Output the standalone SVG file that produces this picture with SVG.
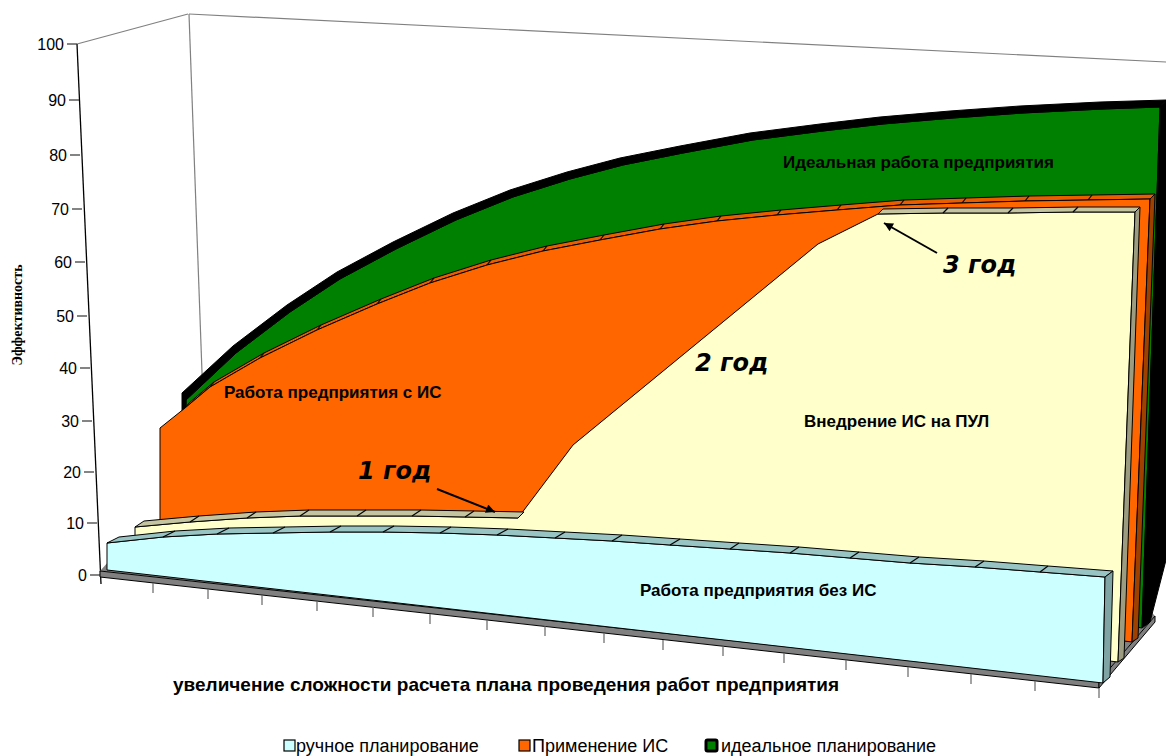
<svg xmlns="http://www.w3.org/2000/svg" width="1166" height="756" viewBox="0 0 1166 756">
<style>
.f{stroke:#000;stroke-width:1;stroke-linejoin:round}
.dv{stroke:#000;stroke-width:1.2}
.lbl{font-family:"Liberation Sans",Arial,sans-serif;font-weight:bold;font-size:17px;fill:#000}
.yr{font-family:"DejaVu Sans",Verdana,sans-serif;font-weight:bold;font-style:italic;font-size:24px;fill:#000}
.tk{font-family:"Liberation Sans",Arial,sans-serif;font-size:16px;fill:#000;text-anchor:end}
.lg{font-family:"Liberation Sans",Arial,sans-serif;font-size:18px;fill:#000}
.wall{stroke:#808080;stroke-width:1.2;fill:none}
.xt{stroke:#666;stroke-width:1.2}
</style>
<defs>
<marker id="ah" viewBox="0 0 10 10" refX="10" refY="5" markerWidth="12" markerHeight="9" markerUnits="userSpaceOnUse" orient="auto">
<path d="M0,0 L10,5 L0,10 z" fill="#000"/>
</marker>
</defs>

<g id="walls">
<line class="wall" x1="77" y1="44" x2="188" y2="14"/>
<line class="wall" x1="189" y1="14" x2="1166" y2="62"/>
<line class="wall" x1="189" y1="14" x2="203" y2="400"/>
</g>

<g id="axis-y">
<line x1="77" y1="44" x2="101" y2="584" stroke="#000" stroke-width="1.3"/>
<g stroke="#333" stroke-width="1.2">
<line x1="67" y1="44" x2="77" y2="44"/>
<line x1="69" y1="100" x2="79" y2="100"/>
<line x1="70" y1="155" x2="80" y2="155"/>
<line x1="72" y1="209" x2="82" y2="209"/>
<line x1="75" y1="262" x2="85" y2="262"/>
<line x1="77" y1="316" x2="87" y2="316"/>
<line x1="80" y1="368" x2="90" y2="368"/>
<line x1="82" y1="421" x2="92" y2="421"/>
<line x1="84" y1="472" x2="94" y2="472"/>
<line x1="87" y1="523" x2="97" y2="523"/>
<line x1="90" y1="575" x2="100" y2="575"/>
</g>
<text class="tk" x="64" y="50">100</text>
<text class="tk" x="66" y="106">90</text>
<text class="tk" x="67" y="161">80</text>
<text class="tk" x="69" y="215">70</text>
<text class="tk" x="72" y="268">60</text>
<text class="tk" x="74" y="322">50</text>
<text class="tk" x="77" y="374">40</text>
<text class="tk" x="79" y="427">30</text>
<text class="tk" x="81" y="478">20</text>
<text class="tk" x="84" y="529">10</text>
<text class="tk" x="87" y="581">0</text>
<text transform="translate(22,315) rotate(-90)" text-anchor="middle" font-family="'Liberation Serif','Times New Roman',serif" font-weight="bold" font-size="14">Эффективность</text>
</g>

<g id="floor">
<polygon points="100,571 1099,681 1155,616 1140,600 110,560" fill="#808080"/>
<polygon class="f" points="100,571 1099,681 1099,688 100,577" fill="#808080"/>
<polygon class="f" points="1099,681 1155,616 1155,622 1099,688" fill="#808080"/>
<g class="xt">
<line x1="153" y1="583" x2="153" y2="593"/>
<line x1="208" y1="589" x2="208" y2="599"/>
<line x1="262" y1="595" x2="262" y2="605"/>
<line x1="317" y1="601" x2="317" y2="611"/>
<line x1="373" y1="607" x2="373" y2="617"/>
<line x1="430" y1="614" x2="430" y2="624"/>
<line x1="487" y1="620" x2="487" y2="630"/>
<line x1="545" y1="626" x2="545" y2="636"/>
<line x1="604" y1="633" x2="604" y2="643"/>
<line x1="663" y1="640" x2="663" y2="650"/>
<line x1="723" y1="646" x2="723" y2="656"/>
<line x1="784" y1="653" x2="784" y2="663"/>
<line x1="846" y1="660" x2="846" y2="670"/>
<line x1="908" y1="667" x2="908" y2="677"/>
<line x1="971" y1="674" x2="971" y2="684"/>
<line x1="1035" y1="681" x2="1035" y2="691"/>
<line x1="1099" y1="688" x2="1099" y2="698"/>
</g>
</g>

<g id="series-ideal">
<polygon class="f" points="186,400 236,353 290,312 340,279 396,249 456,220 513,197 570,179 623,165 683,153 753,140 823,131 883,124 953,118 1023,113 1103,109 1160,107 1142,628 186,470" fill="#008000"/>
<polygon class="f" points="182,393 233,346 287,305 337,272 393,242 453,213 510,190 567,172 620,158 680,146 750,133 820,124 880,117 950,111 1020,106 1100,102 1166,100 1160,107 1103,109 1023,113 953,118 883,124 823,131 753,140 683,153 623,165 570,179 513,197 456,220 396,249 340,279 290,312 236,353 186,400 186,412 182,414" fill="#000"/>
<polygon class="f" points="1160,107 1166,100 1166,560 1150,622 1142,628" fill="#000"/>
<text class="lbl" x="783" y="168">Идеальная работа предприятия</text>
</g>

<g id="series-is">
<polygon class="f" points="185,408 210,387 260,358 317,330 377,304 430,283 487,265 543,251 600,240 660,229 717,221 777,215 837,210 900,205 962,203 1025,201 1088,200 1150,199 1155,194 1092,195 1029,196 966,198 904,200 841,205 781,210 721,216 664,224 604,235 547,246 491,260 434,278 381,299 321,325 264,353 214,382 189,403" fill="#e85d00"/>
<g class="dv">
<line x1="210" y1="387" x2="214" y2="382"/>
<line x1="260" y1="358" x2="264" y2="353"/>
<line x1="317" y1="330" x2="321" y2="325"/>
<line x1="377" y1="304" x2="381" y2="299"/>
<line x1="430" y1="283" x2="434" y2="278"/>
<line x1="487" y1="265" x2="491" y2="260"/>
<line x1="543" y1="251" x2="547" y2="246"/>
<line x1="600" y1="240" x2="604" y2="235"/>
<line x1="660" y1="229" x2="664" y2="224"/>
<line x1="717" y1="221" x2="721" y2="216"/>
<line x1="777" y1="215" x2="781" y2="210"/>
<line x1="837" y1="210" x2="841" y2="205"/>
<line x1="900" y1="205" x2="904" y2="200"/>
<line x1="962" y1="203" x2="966" y2="198"/>
<line x1="1025" y1="201" x2="1029" y2="196"/>
<line x1="1088" y1="200" x2="1092" y2="195"/>
</g>
<polygon class="f" points="160,520 160,428 185,408 210,387 260,358 317,330 377,304 430,283 487,265 543,251 600,240 660,229 717,221 777,215 837,210 900,205 962,203 1025,201 1088,200 1150,199 1132,642" fill="#ff6600"/>
<polygon class="f" points="1150,199 1155,194 1138,638 1132,642" fill="#a04000"/>
<text class="lbl" x="224" y="398">Работа предприятия с ИС</text>
</g>

<g id="series-pul">
<polygon class="f" points="135,545 135,527 190,522 247,518 300,516 357,516 412,516 465,517 518,518 573,445 818,244 878,214 943,213 1008,213 1073,212 1135,212 1118,662" fill="#ffffcc"/>
<polygon class="f" points="135,527 190,522 247,518 300,516 357,516 412,516 465,517 518,518 524,512 474,511 421,510 366,510 309,510 256,512 199,516 144,521" fill="#c4c4a0"/>
<polygon class="f" points="878,214 943,213 1008,213 1073,212 1135,212 1140,207 1078,207 1013,208 948,208 883,209" fill="#c4c4a0"/>
<polygon class="f" points="1135,212 1140,207 1124,658 1118,662" fill="#9c9c80"/>
<g class="dv">
<line x1="190" y1="522" x2="199" y2="516"/>
<line x1="247" y1="518" x2="256" y2="512"/>
<line x1="300" y1="516" x2="309" y2="510"/>
<line x1="357" y1="516" x2="366" y2="510"/>
<line x1="412" y1="516" x2="421" y2="510"/>
<line x1="465" y1="517" x2="474" y2="511"/>
<line x1="943" y1="213" x2="948" y2="208"/>
<line x1="1008" y1="213" x2="1013" y2="208"/>
<line x1="1073" y1="212" x2="1078" y2="207"/>
</g>
<text class="lbl" x="804" y="427">Внедрение ИС на ПУЛ</text>
</g>

<g id="series-manual">
<polygon class="f" points="107,570 107,543 163,537 217,534 273,533 330,532 383,532 440,533 497,535 555,538 612,541 670,545 730,549 790,553 850,558 910,563 975,567 1040,572 1105,577 1103,683" fill="#ccffff"/>
<polygon class="f" points="107,543 163,537 217,534 273,533 330,532 383,532 440,533 497,535 555,538 612,541 670,545 730,549 790,553 850,558 910,563 975,567 1040,572 1105,577 1113,571 1048,566 984,561 919,557 859,552 799,547 739,543 680,539 622,535 565,532 508,529 451,527 394,526 341,526 285,527 229,528 175,531 119,537" fill="#99c4c4"/>
<polygon class="f" points="1105,577 1113,571 1110,677 1103,683" fill="#80a4a4"/>
<g class="dv">
<line x1="163" y1="537" x2="175" y2="531"/>
<line x1="217" y1="534" x2="229" y2="528"/>
<line x1="273" y1="533" x2="285" y2="527"/>
<line x1="330" y1="532" x2="341" y2="526"/>
<line x1="383" y1="532" x2="394" y2="526"/>
<line x1="440" y1="533" x2="451" y2="527"/>
<line x1="497" y1="535" x2="508" y2="529"/>
<line x1="555" y1="538" x2="565" y2="532"/>
<line x1="612" y1="541" x2="622" y2="535"/>
<line x1="670" y1="545" x2="680" y2="539"/>
<line x1="730" y1="549" x2="739" y2="543"/>
<line x1="790" y1="553" x2="799" y2="547"/>
<line x1="850" y1="558" x2="859" y2="552"/>
<line x1="910" y1="563" x2="919" y2="557"/>
<line x1="975" y1="567" x2="984" y2="561"/>
<line x1="1040" y1="572" x2="1048" y2="566"/>
</g>
<text class="lbl" x="640" y="596">Работа предприятия без ИС</text>
</g>

<g id="annotations">
<text class="yr" x="358" y="479">1 год</text>
<text class="yr" x="695" y="371">2 год</text>
<text class="yr" x="943" y="273">3 год</text>
</g>

<g id="connectors">
<line x1="437" y1="489" x2="495" y2="512" stroke="#000" stroke-width="2" marker-end="url(#ah)"/>
<line x1="937" y1="253" x2="884" y2="223" stroke="#000" stroke-width="2" marker-end="url(#ah)"/>
</g>

<text x="173" y="691" font-family="'Liberation Sans',Arial,sans-serif" font-weight="bold" font-size="19">увеличение сложности расчета плана проведения работ предприятия</text>

<g id="legend">
<rect x="284" y="740" width="11" height="11" fill="#ccffff" stroke="#000" stroke-width="1.2"/>
<text class="lg" x="296" y="752">ручное планирование</text>
<rect x="519" y="740" width="11" height="11" fill="#ff6600" stroke="#000" stroke-width="1.2"/>
<text class="lg" x="532" y="752">Применение ИС</text>
<rect x="706" y="740" width="11" height="11" rx="1.5" fill="#008000" stroke="#000" stroke-width="3"/>
<text class="lg" x="721" y="752">идеальное планирование</text>
</g>
</svg>
